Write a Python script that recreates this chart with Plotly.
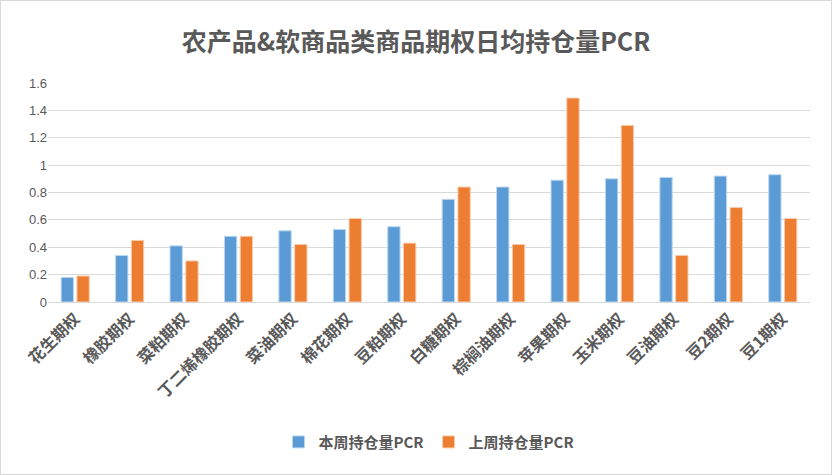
import plotly.graph_objects as go

# Categories and weekly PCR values
categories = ['花生期权', '橡胶期权', '菜粕期权', '丁二烯橡胶期权', '菜油期权', '棉花期权', '豆粕期权',
              '白糖期权', '棕榈油期权', '苹果期权', '玉米期权', '豆油期权', '豆2期权', '豆1期权']
this_week = [0.18, 0.34, 0.41, 0.48, 0.52, 0.53, 0.55, 0.75, 0.84, 0.89, 0.90, 0.91, 0.92, 0.93]
last_week = [0.19, 0.45, 0.30, 0.48, 0.42, 0.61, 0.43, 0.84, 0.42, 1.49, 1.29, 0.34, 0.69, 0.61]
series_names = ['本周持仓量PCR', '上周持仓量PCR']

cjk = 'Noto Sans CJK SC'
grey = '#595959'

fig = go.Figure()
fig.add_trace(go.Bar(x=categories, y=this_week, name='<b>%s</b>' % series_names[0],
                     marker=dict(color='#5B9BD5', line=dict(color='#BDD7EE', width=1))))
fig.add_trace(go.Bar(x=categories, y=last_week, name='<b>%s</b>' % series_names[1],
                     marker=dict(color='#ED7D31', line=dict(color='#F8CBAD', width=1))))

fig.update_layout(
    width=832, height=475,
    paper_bgcolor='white', plot_bgcolor='white',
    margin=dict(l=48, r=22, t=83, b=173),
    title=dict(text='<b>农产品&软商品类商品期权日均持仓量PCR</b>', x=0.5, xanchor='center',
               y=1 - 42 / 475, yanchor='middle', font=dict(family=cjk, size=25, color=grey)),
    barmode='group', bargap=0.42, bargroupgap=0.22,
    font=dict(family=cjk, color=grey),
    legend=dict(orientation='h', x=0.5, xanchor='center', y=-0.64, yanchor='middle',
                font=dict(family=cjk, size=15, color=grey), itemwidth=30,
                traceorder='normal'),
    xaxis=dict(tickangle=-45, tickfont=dict(family=cjk, size=16, color=grey),
               tickvals=categories, ticktext=['<b>%s</b>' % c for c in categories],
               showline=True, linecolor='#D9D9D9', linewidth=1, ticks=''),
    yaxis=dict(range=[0, 1.6], dtick=0.2, showgrid=True, gridcolor='#D9D9D9', gridwidth=1,
               zeroline=False, tickfont=dict(family='Liberation Sans', size=13, color=grey)),
    shapes=[dict(type='rect', xref='paper', yref='paper',
                 x0=-47.5 / 762, x1=1 + 21.5 / 762, y0=-172.5 / 219, y1=1 + 82.5 / 219,
                 line=dict(color='#D9D9D9', width=1))],
)

fig.write_html('out.html', config={'displayModeBar': False},
               post_script="document.body.style.margin='0';")
